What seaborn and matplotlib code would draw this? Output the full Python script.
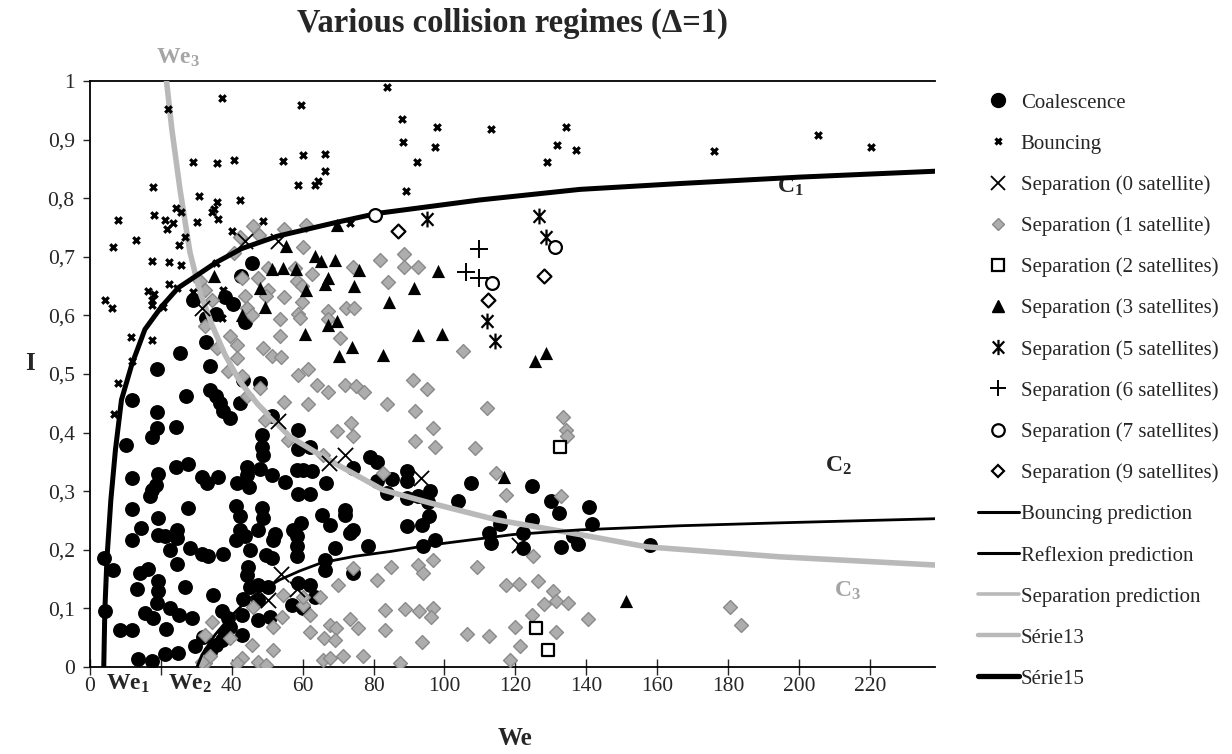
import matplotlib
matplotlib.use("Agg")
import matplotlib.pyplot as plt
import seaborn as sns
from matplotlib.lines import Line2D
from matplotlib.path import Path

# ---- data (We, I) ----
coal_we = [25.4, 18.8, 27.0, 11.9, 18.8, 18.8, 17.4, 24.3, 10.2, 34.0,
           33.9, 35.7, 36.7, 37.6, 39.5, 43.2, 48.0, 42.3, 51.3, 48.4,
           48.4, 48.9, 58.8, 58.8, 62.1, 66.6, 58.3, 60.2, 62.5, 55.0,
           58.8, 62.1, 79.0, 80.9, 74.3, 80.9, 83.7, 48.0, 51.3, 44.2,
           41.4, 44.9, 24.2, 27.6, 11.8, 19.3, 17.4, 31.5, 36.2, 11.8,
           27.7, 19.3, 14.3, 19.3, 24.5, 24.6, 12.0, 22.6, 28.2, 31.5,
           33.4, 37.6, 41.2, 42.3, 42.3, 43.7, 45.1, 48.4, 48.9, 47.5,
           52.2, 51.7, 49.8, 51.3, 57.4, 59.4, 58.3, 58.3, 58.3, 65.4,
           67.7, 71.9, 71.9, 73.3, 74.3, 69.1, 78.3, 66.3, 66.3, 74.3,
           44.7, 44.2, 45.1, 47.5, 50.3, 47.5, 50.8, 47.5, 56.9, 58.8,
           62.1, 60.2, 43.2, 42.8, 42.8, 13.2, 19.3, 18.8, 15.5, 17.9,
           22.6, 25.2, 28.7, 26.8, 34.8, 37.2, 39.0, 39.5, 38.1, 37.2,
           35.7, 33.9, 29.6, 24.9, 21.2, 13.6, 17.4, 8.5, 11.8, 21.4,
           3.9, 6.6, 4.2, 14.1, 16.4,
           18.6, 16.9, 32.9, 44.2, 21.2, 41.2, 24.7, 19.3, 32.0, 63.5,
           29.1, 32.7, 35.5, 38.1, 40.3, 43.7, 42.6, 45.7, 32.7,
           89.3, 89.3, 89.3, 92.6, 89.3, 93.6, 94.0, 85.1, 95.9, 95.4,
           95.7, 97.3, 103.9, 107.4, 115.4, 115.7, 112.6, 113.1, 124.6, 124.6,
           122.1, 122.1, 130.0, 132.3, 140.9, 141.5, 136.2, 137.7, 132.8, 158.0]
coal_i = [0.536, 0.508, 0.462, 0.455, 0.435, 0.407, 0.393, 0.410, 0.378, 0.513,
          0.473, 0.462, 0.451, 0.436, 0.425, 0.490, 0.485, 0.451, 0.428, 0.396,
          0.376, 0.362, 0.405, 0.372, 0.376, 0.314, 0.337, 0.337, 0.334, 0.315,
          0.296, 0.296, 0.359, 0.349, 0.340, 0.317, 0.297, 0.338, 0.328, 0.342,
          0.314, 0.307, 0.342, 0.346, 0.322, 0.330, 0.302, 0.325, 0.325, 0.270,
          0.272, 0.254, 0.238, 0.226, 0.234, 0.220, 0.216, 0.200, 0.203, 0.193,
          0.190, 0.193, 0.274, 0.257, 0.234, 0.223, 0.200, 0.271, 0.254, 0.234,
          0.227, 0.217, 0.191, 0.186, 0.234, 0.246, 0.223, 0.206, 0.190, 0.260,
          0.243, 0.268, 0.260, 0.228, 0.234, 0.203, 0.206, 0.183, 0.166, 0.160,
          0.171, 0.157, 0.137, 0.140, 0.137, 0.115, 0.086, 0.080, 0.106, 0.143,
          0.140, 0.100, 0.116, 0.089, 0.055, 0.133, 0.130, 0.109, 0.092, 0.083,
          0.100, 0.089, 0.083, 0.137, 0.123, 0.095, 0.083, 0.069, 0.058, 0.046,
          0.038, 0.026, 0.035, 0.024, 0.023, 0.013, 0.011, 0.063, 0.063, 0.064,
          0.186, 0.166, 0.095, 0.161, 0.167,
          0.311, 0.291, 0.314, 0.328, 0.224, 0.217, 0.176, 0.146, 0.052, 0.120,
          0.627, 0.596, 0.602, 0.632, 0.619, 0.588, 0.667, 0.690, 0.555,
          0.334, 0.317, 0.288, 0.291, 0.240, 0.243, 0.206, 0.321, 0.300, 0.282,
          0.257, 0.216, 0.284, 0.314, 0.256, 0.244, 0.228, 0.211, 0.309, 0.250,
          0.228, 0.203, 0.284, 0.263, 0.273, 0.244, 0.223, 0.210, 0.205, 0.208]

bounce_we = [83.7, 37.2, 59.4, 21.9, 29.1, 35.9, 40.7, 54.6, 60.0, 66.3,
             66.4, 17.9, 30.8, 35.8, 42.3, 58.7, 63.5, 64.2, 7.8, 13.1,
             18.1, 21.2, 21.8, 23.3, 24.3, 25.7, 30.3, 34.3, 35.0, 36.0,
             26.7, 25.2, 40.0, 48.9, 6.4, 17.6, 22.3, 25.6, 22.4, 24.6,
             4.2, 6.1, 16.4, 18.1, 17.5, 17.4, 20.5, 11.6, 17.5, 35.7,
             29.1, 37.6, 37.2, 73.3, 12.0, 8.0, 6.8, 88.0, 98.0, 113.0,
             134.2, 88.4, 97.3, 131.8, 137.0, 92.3, 128.8, 89.2, 176.0, 205.4,
             220.3]
bounce_i = [0.989, 0.971, 0.959, 0.953, 0.862, 0.860, 0.865, 0.863, 0.873, 0.876,
            0.846, 0.819, 0.804, 0.794, 0.797, 0.823, 0.823, 0.829, 0.762, 0.728,
            0.772, 0.762, 0.747, 0.758, 0.784, 0.776, 0.760, 0.777, 0.781, 0.765,
            0.733, 0.720, 0.744, 0.761, 0.717, 0.692, 0.691, 0.686, 0.653, 0.647,
            0.627, 0.612, 0.641, 0.636, 0.626, 0.617, 0.614, 0.563, 0.558, 0.689,
            0.640, 0.644, 0.595, 0.758, 0.523, 0.485, 0.432, 0.935, 0.921, 0.918,
            0.922, 0.896, 0.888, 0.890, 0.882, 0.862, 0.861, 0.813, 0.880, 0.907,
            0.887]

sep0_we = [43.7, 53.1, 31.5, 53.1, 67.5, 71.9, 53.8, 50.3, 58.5, 93.4, 121.1]
sep0_i = [0.727, 0.727, 0.613, 0.419, 0.348, 0.361, 0.159, 0.115, 0.133, 0.323, 0.208]

sep1_we = [60.2, 50.3, 57.8, 62.7, 74.3, 81.8, 88.6, 88.7, 92.4, 84.2,
           58.3, 59.7, 47.5, 50.1, 49.8, 54.7, 59.7, 58.8, 59.2, 67.1,
           67.2, 72.2, 74.6, 53.6, 53.6, 70.5, 48.9, 51.3, 53.9, 58.6,
           61.4, 64.0, 67.2, 71.9, 75.0, 77.4, 91.2, 54.8, 61.4, 83.7,
           91.7, 49.4, 55.9, 48.0, 69.6, 73.5, 74.3, 91.7, 65.8, 45.9,
           47.8, 54.8, 60.9, 42.3, 40.6, 42.8, 43.7, 31.0, 32.4, 34.3,
           44.2, 45.6, 32.4, 39.5, 41.4, 35.9, 41.4, 39.0, 42.8, 44.2,
           82.7, 74.3, 80.9, 70.0, 73.3, 75.7, 67.7, 69.4, 66.0, 69.1,
           62.1, 62.1, 64.9, 60.2, 54.2, 51.7, 51.5, 45.6, 47.5, 49.8,
           42.8, 41.4, 32.4, 34.3, 32.4, 33.9, 31.5, 39.5, 45.9, 54.5,
           65.8, 67.7, 71.5, 77.1, 83.2, 83.2, 84.9, 92.6, 94.0, 60.2,
           88.9, 92.8, 93.6, 87.5, 105.1, 95.0, 112.1, 96.8, 97.3, 108.6,
           133.5, 134.2, 134.6, 114.5, 117.5, 132.9, 124.9, 96.8, 109.1, 117.3,
           121.1, 126.5, 130.7, 128.1, 131.4, 134.8, 124.6, 140.6, 96.7, 96.2,
           106.3, 112.6, 119.9, 121.3, 131.5, 118.5, 180.5, 183.6]
sep1_i = [0.717, 0.681, 0.681, 0.671, 0.683, 0.694, 0.704, 0.683, 0.683, 0.657,
          0.658, 0.650, 0.664, 0.644, 0.633, 0.632, 0.622, 0.603, 0.596, 0.607,
          0.593, 0.613, 0.613, 0.593, 0.564, 0.562, 0.545, 0.530, 0.529, 0.499,
          0.508, 0.481, 0.469, 0.481, 0.479, 0.470, 0.490, 0.452, 0.448, 0.449,
          0.436, 0.422, 0.388, 0.476, 0.402, 0.416, 0.394, 0.385, 0.361, 0.752,
          0.738, 0.747, 0.755, 0.733, 0.707, 0.664, 0.633, 0.658, 0.644, 0.627,
          0.613, 0.600, 0.582, 0.564, 0.550, 0.545, 0.528, 0.505, 0.496, 0.462,
          0.331, 0.169, 0.149, 0.140, 0.082, 0.066, 0.072, 0.066, 0.050, 0.046,
          0.060, 0.089, 0.120, 0.106, 0.086, 0.069, 0.029, 0.038, 0.009, 0.003,
          0.015, 0.006, 0.055, 0.077, 0.006, 0.018, 0.009, 0.049, 0.103, 0.123,
          0.012, 0.015, 0.018, 0.018, 0.097, 0.063, 0.171, 0.174, 0.160, 0.120,
          0.099, 0.095, 0.043, 0.006, 0.539, 0.475, 0.442, 0.408, 0.375, 0.374,
          0.427, 0.405, 0.395, 0.331, 0.293, 0.292, 0.190, 0.183, 0.170, 0.140,
          0.142, 0.146, 0.130, 0.108, 0.112, 0.110, 0.089, 0.082, 0.100, 0.086,
          0.056, 0.053, 0.069, 0.035, 0.059, 0.012, 0.102, 0.072]

sep2_we = [132.6, 125.8, 129.1]
sep2_i = [0.376, 0.066, 0.029]

sep3_we = [55.3, 69.6, 35.1, 51.3, 54.4, 58.0, 63.5, 65.3, 69.1, 76.0,
           48.0, 67.2, 66.3, 61.0, 74.6, 49.4, 67.2, 69.7, 84.3, 60.6,
           73.8, 70.3, 82.7, 42.8, 91.3, 92.6, 98.1, 99.3, 128.6, 125.5,
           116.8, 151.1]
sep3_i = [0.718, 0.755, 0.667, 0.680, 0.681, 0.680, 0.701, 0.692, 0.694, 0.678,
          0.647, 0.663, 0.654, 0.643, 0.650, 0.615, 0.584, 0.591, 0.622, 0.569,
          0.546, 0.531, 0.533, 0.601, 0.647, 0.567, 0.675, 0.569, 0.536, 0.522,
          0.324, 0.113]

sep5_we = [95.0, 126.7, 128.6, 111.9, 114.4]
sep5_i = [0.764, 0.770, 0.733, 0.590, 0.557]

sep6_we = [109.8, 106.1, 109.7]
sep6_i = [0.714, 0.674, 0.663]

sep7_we = [131.2, 113.3, 80.4]
sep7_i = [0.717, 0.655, 0.772]

sep9_we = [86.8, 112.4, 128.2]
sep9_i = [0.744, 0.626, 0.668]

# prediction curves
c1_we = [3.9, 4.2, 4.8, 5.9, 7.2, 8.9, 11.8, 15.5, 20.2, 24.9, 29.6,
         35.5, 42.8, 48.5, 52.8, 69.7, 81.0, 110.0, 138.2, 166.4, 200.3, 238.4]
c1_i = [0.0, 0.096, 0.185, 0.285, 0.371, 0.456, 0.516, 0.576, 0.615, 0.647, 0.666,
        0.690, 0.714, 0.726, 0.735, 0.759, 0.774, 0.797, 0.815, 0.825, 0.836, 0.846]

c2_we = [30.2, 31.6, 35.3, 39.5, 44.6, 48.8, 53.6, 59.2, 65.4, 74.8,
         84.6, 95.9, 119.3, 138.2, 166.4, 194.6, 238.4]
c2_i = [0.0, 0.021, 0.055, 0.085, 0.115, 0.132, 0.149, 0.164, 0.178, 0.189,
        0.197, 0.208, 0.226, 0.234, 0.241, 0.246, 0.253]

c3_we = [21.6, 23.1, 25.4, 28.2, 31.0, 34.4, 38.1, 42.3, 47.4, 56.4,
         65.7, 82.7, 95.9, 114.8, 138.2, 157.1, 194.6, 238.4]
c3_i = [1.0, 0.918, 0.815, 0.708, 0.640, 0.584, 0.533, 0.487, 0.448, 0.393,
        0.359, 0.302, 0.280, 0.251, 0.226, 0.205, 0.188, 0.174]

x_ticks = [0, 20, 40, 60, 80, 100, 120, 140, 160, 180, 200, 220]
x_labels = ['0', '', '40', '60', '80', '100', '120', '140', '160', '180', '200', '220']
y_ticks = [0, 0.1, 0.2, 0.3, 0.4, 0.5, 0.6, 0.7, 0.8, 0.9, 1.0]
y_labels = ['0', '0,1', '0,2', '0,3', '0,4', '0,5', '0,6', '0,7', '0,8', '0,9', '1']

GRAY_FILL = '#adadad'
GRAY_EDGE = '#8a8a8a'
GRAY_LINE = '#b9b9b9'

sns.set_style("ticks")
plt.rcParams['font.family'] = ['Liberation Serif', 'DejaVu Serif']
plt.rcParams['mathtext.fontset'] = 'custom'
plt.rcParams['mathtext.rm'] = 'Liberation Serif'
plt.rcParams['mathtext.bf'] = 'Liberation Serif:bold'
plt.rcParams['mathtext.it'] = 'Liberation Serif:italic'

# asterisk: X plus vertical bar
ast = Path([(0, -1), (0, 1), (-0.75, -0.8), (0.75, 0.8), (-0.75, 0.8), (0.75, -0.8)],
           [Path.MOVETO, Path.LINETO] * 3)

fig = plt.figure(figsize=(12.32, 7.54), dpi=100)
ax = fig.add_axes([0.073, 0.1154, 0.686, 0.7772])

# scatter series
sns.scatterplot(x=coal_we, y=coal_i, marker='o', s=115, color='black',
                edgecolor='black', linewidth=0, ax=ax, zorder=2)
sns.scatterplot(x=sep1_we, y=sep1_i, marker='D', s=50, color=GRAY_FILL,
                edgecolor=GRAY_EDGE, linewidth=1, ax=ax, zorder=3)

# curves
sns.lineplot(x=c3_we, y=c3_i, color=GRAY_LINE, lw=4, sort=False, estimator=None, ax=ax, zorder=4)
sns.lineplot(x=c1_we, y=c1_i, color='black', lw=3.6, sort=False, estimator=None, ax=ax, zorder=4)
sns.lineplot(x=c2_we, y=c2_i, color='black', lw=2.0, sort=False, estimator=None, ax=ax, zorder=4)

sns.scatterplot(x=bounce_we, y=bounce_i, marker='x', s=22, color='black', linewidth=2.3, ax=ax, zorder=5)
sns.scatterplot(x=sep0_we, y=sep0_i, marker='x', s=120, color='black', linewidth=1.3, ax=ax, zorder=5)
sns.scatterplot(x=sep2_we, y=sep2_i, marker='s', s=85, color='white',
                edgecolor='black', linewidth=1.6, ax=ax, zorder=5)
sns.scatterplot(x=sep3_we, y=sep3_i, marker='^', s=90, color='black',
                edgecolor='black', linewidth=0, ax=ax, zorder=5)
sns.scatterplot(x=sep5_we, y=sep5_i, marker=ast, s=130, color='black',
                edgecolor='black', linewidth=1.6, ax=ax, zorder=5)
sns.scatterplot(x=sep6_we, y=sep6_i, marker='+', s=150, color='black', linewidth=1.4, ax=ax, zorder=5)
sns.scatterplot(x=sep7_we, y=sep7_i, marker='o', s=85, color='white',
                edgecolor='black', linewidth=1.6, ax=ax, zorder=6)
sns.scatterplot(x=sep9_we, y=sep9_i, marker='D', s=50, color='white',
                edgecolor='black', linewidth=1.6, ax=ax, zorder=6)

ax.set_xlim(0, 238.4)
ax.set_ylim(0, 1.0)
ax.set_xticks(x_ticks)
ax.set_xticklabels(x_labels)
ax.set_yticks(y_ticks)
ax.set_yticklabels(y_labels)
ax.tick_params(axis='x', direction='inout', length=11, width=1, labelsize=15.5, pad=2)
ax.tick_params(axis='y', direction='out', length=5, width=1, labelsize=15.5, pad=6)
for side in ['left', 'bottom', 'top']:
    ax.spines[side].set_linewidth(1.3)
    ax.spines[side].set_color('black')
ax.spines['right'].set_visible(False)

ax.set_xlabel('We', fontsize=18, fontweight='bold')
ax.set_ylabel('I', fontsize=18, fontweight='bold', rotation=0)
ax.xaxis.set_label_coords(0.503, -0.102)
ax.yaxis.set_label_coords(-0.071, 0.498)
ax.set_title('Various collision regimes (\u0394=1)', fontsize=23.5, fontweight='bold', y=1.07)

# curve annotations
ax.text(197.5, 0.819, r'C$_{\mathbf{1}}$', fontsize=17, fontweight='bold', ha='center', va='center')
ax.text(211.0, 0.343, r'C$_{\mathbf{2}}$', fontsize=17, fontweight='bold', ha='center', va='center')
ax.text(213.8, 0.130, r'C$_{\mathbf{3}}$', fontsize=17, fontweight='bold', ha='center', va='center',
        color='#a5a5a5')
ax.text(24.8, 1.04, r'We$_{\mathbf{3}}$', fontsize=17, fontweight='bold', ha='center', va='center',
        color='#a5a5a5', clip_on=False)
ax.text(10.7, -0.028, r'We$_{\mathbf{1}}$', fontsize=17, fontweight='bold', ha='center', va='center',
        clip_on=False, bbox=dict(facecolor='white', edgecolor='none', pad=0.5))
ax.text(28.2, -0.028, r'We$_{\mathbf{2}}$', fontsize=17, fontweight='bold', ha='center', va='center',
        clip_on=False, bbox=dict(facecolor='white', edgecolor='none', pad=0.5))

# legend
handles = [
    Line2D([], [], ls='none', marker='o', ms=10, color='black'),
    Line2D([], [], ls='none', marker='x', ms=4.5, mew=2.3, color='black'),
    Line2D([], [], ls='none', marker='x', ms=10, mew=1.3, color='black'),
    Line2D([], [], ls='none', marker='D', ms=6.5, mfc=GRAY_FILL, mec=GRAY_EDGE, mew=1),
    Line2D([], [], ls='none', marker='s', ms=9, mfc='white', mec='black', mew=1.6),
    Line2D([], [], ls='none', marker='^', ms=9, color='black'),
    Line2D([], [], ls='none', marker=ast, ms=11, color='black', mew=1.6),
    Line2D([], [], ls='none', marker='+', ms=12, mew=1.4, color='black'),
    Line2D([], [], ls='none', marker='o', ms=9, mfc='white', mec='black', mew=1.6),
    Line2D([], [], ls='none', marker='D', ms=6.5, mfc='white', mec='black', mew=1.6),
    Line2D([], [], color='black', lw=2.2),
    Line2D([], [], color='black', lw=2.2),
    Line2D([], [], color=GRAY_LINE, lw=2.6),
    Line2D([], [], color=GRAY_LINE, lw=3.2),
    Line2D([], [], color='black', lw=3.8),
]
labels = ['Coalescence', 'Bouncing', 'Separation (0 satellite)', 'Separation (1 satellite)',
          'Separation (2 satellites)', 'Separation (3 satellites)', 'Separation (5 satellites)',
          'Separation (6 satellites)', 'Separation (7 satellites)', 'Separation (9 satellites)',
          'Bouncing prediction', 'Reflexion prediction', 'Separation prediction',
          'S\u00e9rie13', 'S\u00e9rie15']
fig.legend(handles, labels, loc='upper left', bbox_to_anchor=(978 / 1232, 1 - 93 / 754),
           frameon=False, fontsize=15, handlelength=1.95, handletextpad=0.1,
           labelspacing=1.03, borderpad=0, borderaxespad=0)

fig.savefig('out.png', dpi=100)
